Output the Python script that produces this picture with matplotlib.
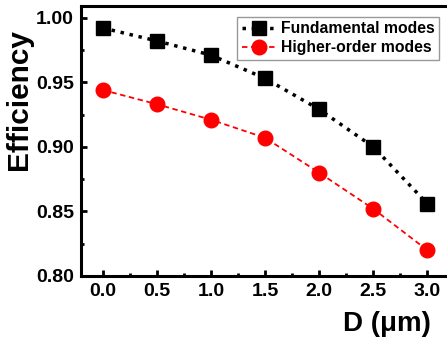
import matplotlib
matplotlib.use('Agg')
import matplotlib.pyplot as plt
from matplotlib.ticker import MultipleLocator

plt.rcParams['font.family'] = ['Liberation Sans', 'DejaVu Sans']
plt.rcParams['font.weight'] = 'bold'

d_um = [0.0, 0.5, 1.0, 1.5, 2.0, 2.5, 3.0]
fundamental = [0.992, 0.982, 0.971, 0.953, 0.929, 0.900, 0.856]
higher_order = [0.944, 0.933, 0.921, 0.907, 0.880, 0.852, 0.820]

fig = plt.figure(figsize=(4.47, 3.41), dpi=100)
ax = fig.add_axes([81 / 447, 1 - 276 / 341, 368 / 447, 270 / 341])

ax.plot(d_um, fundamental, color='black', linestyle=':', linewidth=2.5,
        marker='s', markersize=10, label='Fundamental modes')
ax.plot(d_um, higher_order, color='red', linestyle='--', linewidth=1.3,
        dashes=(3, 2), marker='o', markersize=10.5, label='Higher-order modes')

ax.set_xlim(-0.2, 3.2)
ax.set_ylim(0.80, 1.009)
ax.xaxis.set_major_locator(MultipleLocator(0.5))
ax.xaxis.set_minor_locator(MultipleLocator(0.25))
ax.yaxis.set_major_locator(MultipleLocator(0.05))
ax.yaxis.set_minor_locator(MultipleLocator(0.025))
ax.xaxis.set_major_formatter(plt.FormatStrFormatter('%.1f'))
ax.yaxis.set_major_formatter(plt.FormatStrFormatter('%.2f'))

ax.tick_params(which='both', direction='in', width=2, labelsize=14, pad=5)
ax.tick_params(which='major', length=4)
ax.tick_params(which='minor', length=2.5)
for s in ax.spines.values():
    s.set_linewidth(2.2)

ax.set_ylabel('Efficiency', fontsize=21.5, fontweight='bold')
ax.yaxis.set_label_coords(-0.13, 0.655)
ax.set_xlabel('D (\u03bcm)', fontsize=20, fontweight='bold')
ax.xaxis.set_label_coords(0.95, -0.13)
ax.xaxis.label.set_horizontalalignment('right')

leg = ax.legend(loc='upper right', fontsize=11.3, frameon=True, fancybox=False,
                edgecolor='gray', handlelength=2.2, handletextpad=0.3,
                borderpad=0.3, labelspacing=0.25, borderaxespad=0.5,
                bbox_to_anchor=(0.995, 0.99))
leg.get_frame().set_linewidth(1.0)

plt.savefig('out.png', dpi=100)
